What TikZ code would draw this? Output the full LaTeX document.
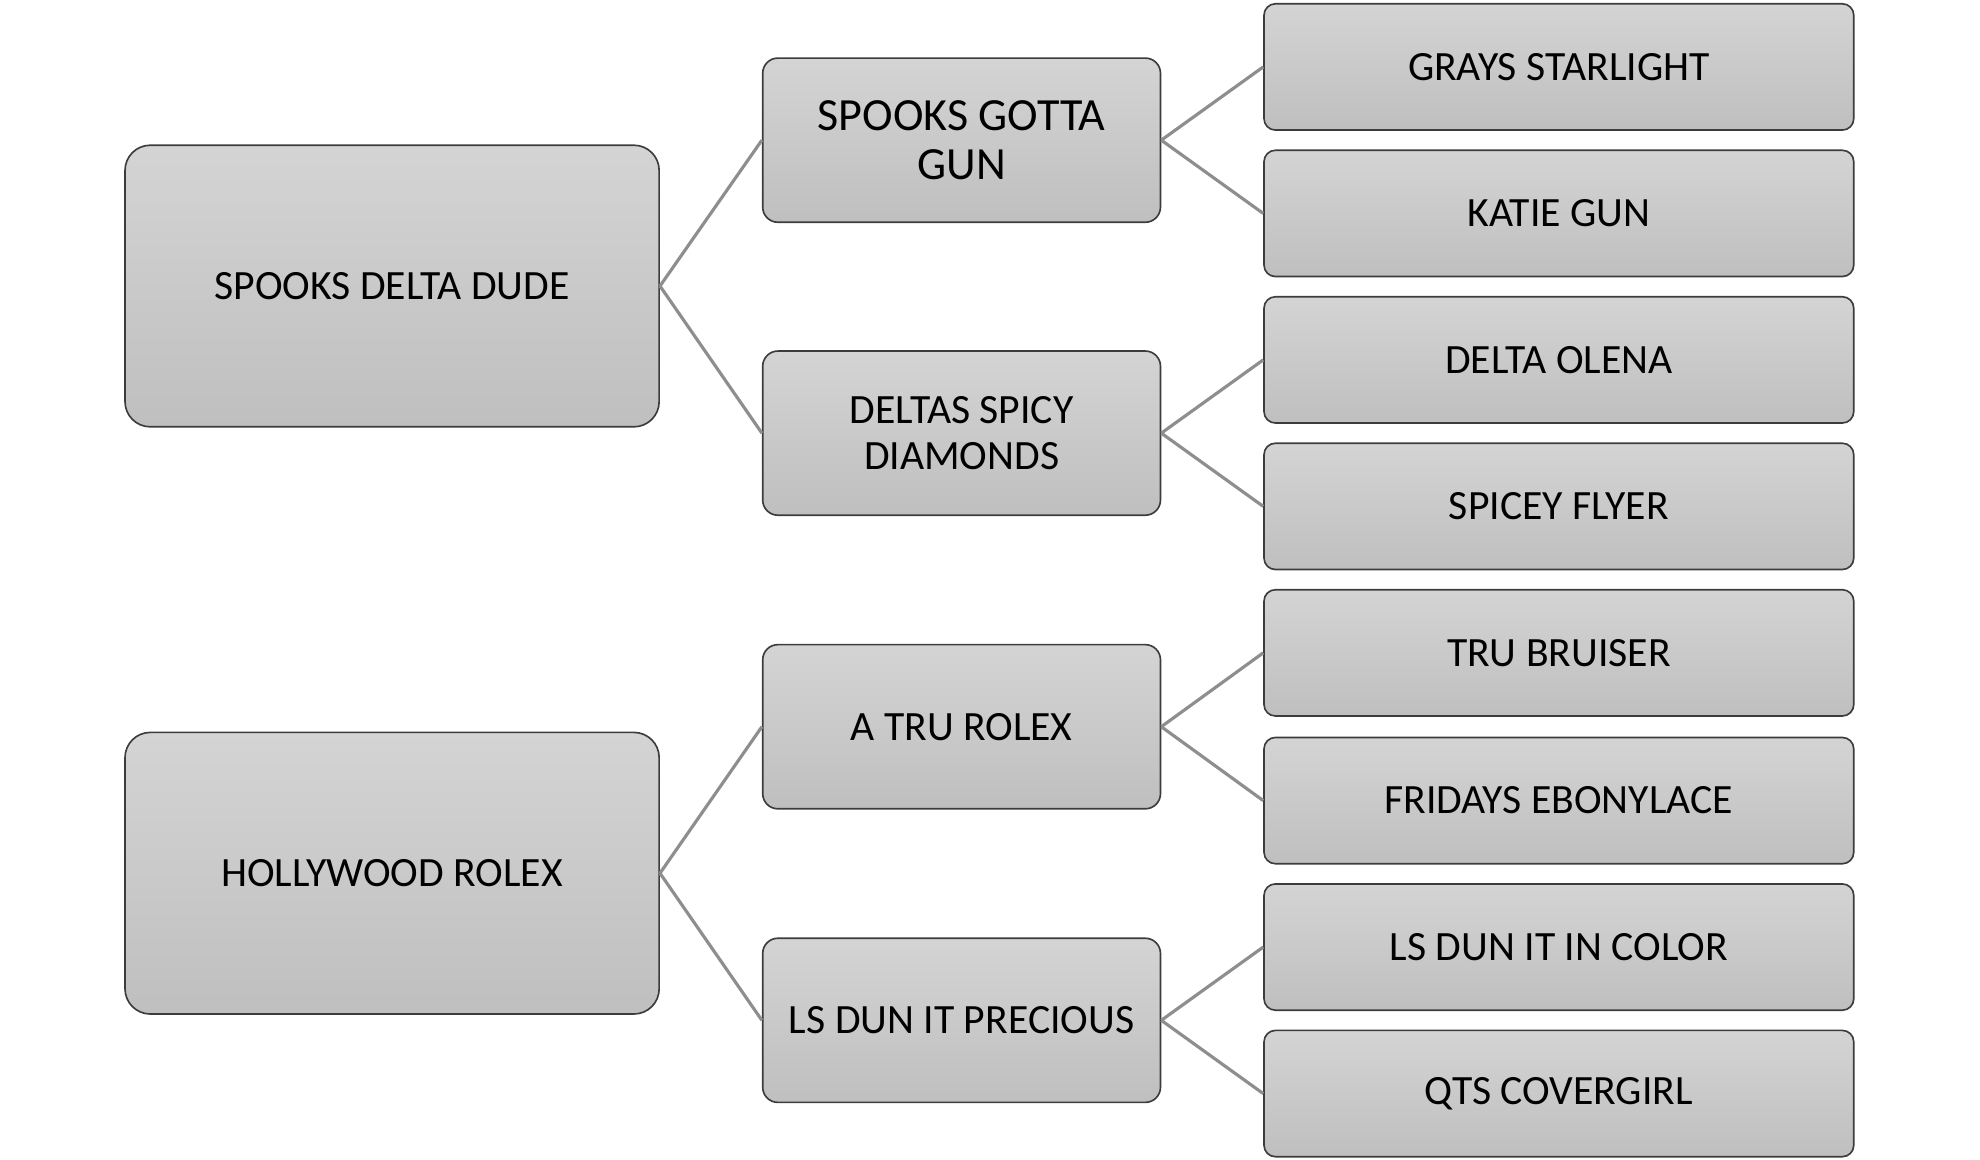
\documentclass[tikz,border=0pt]{standalone}
\usepackage{fontspec}
\setmainfont{Carlito}
\definecolor{topg}{RGB}{212,212,212}
\definecolor{botg}{RGB}{191,191,191}
\definecolor{edgec}{RGB}{60,60,60}
\definecolor{connc}{RGB}{142,142,142}
\begin{document}
\begin{tikzpicture}[x=1pt,y=-1pt,
  box/.style={draw=edgec, line width=1.3pt, top color=topg, bottom color=botg, align=center, inner sep=0pt, anchor=center, font=\fontsize{33}{36}\selectfont},
  lone/.style={box, minimum width=423pt, minimum height=223pt, rounded corners=20pt},
  ltwo/.style={box, minimum width=315pt, minimum height=130pt, rounded corners=12pt},
  lthree/.style={box, minimum width=467pt, minimum height=100pt, rounded corners=9pt},
  bigtext/.style={font=\fontsize{36.5}{39}\selectfont},
  conn/.style={draw=connc, line width=2.5pt}]
\useasboundingbox (0,0) rectangle (1568,918.6);
% level 1
\node[lone] (a) at (310.5,226.5) {SPOOKS DELTA DUDE};
\node[lone] (b) at (310.5,691.5) {HOLLYWOOD ROLEX};
% level 2
\node[ltwo, bigtext] (a1) at (761.5,111) {SPOOKS GOTTA\\GUN};
\node[ltwo] (a2) at (761.5,343) {DELTAS SPICY\\DIAMONDS};
\node[ltwo] (b1) at (761.5,575.5) {A TRU ROLEX};
\node[ltwo] (b2) at (761.5,808) {LS DUN IT PRECIOUS};
% level 3
\node[lthree] (a11) at (1234.5,53) {GRAYS STARLIGHT};
\node[lthree] (a12) at (1234.5,169) {KATIE GUN};
\node[lthree] (a21) at (1234.5,285) {DELTA OLENA};
\node[lthree] (a22) at (1234.5,401) {SPICEY FLYER};
\node[lthree] (b11) at (1234.5,517) {TRU BRUISER};
\node[lthree] (b12) at (1234.5,634) {FRIDAYS EBONYLACE};
\node[lthree] (b21) at (1234.5,750) {LS DUN IT IN COLOR};
\node[lthree] (b22) at (1234.5,866) {QTS COVERGIRL};
% connectors
\draw[conn] (a.east) -- (a1.west);
\draw[conn] (a.east) -- (a2.west);
\draw[conn] (b.east) -- (b1.west);
\draw[conn] (b.east) -- (b2.west);
\draw[conn] (a1.east) -- (a11.west);
\draw[conn] (a1.east) -- (a12.west);
\draw[conn] (a2.east) -- (a21.west);
\draw[conn] (a2.east) -- (a22.west);
\draw[conn] (b1.east) -- (b11.west);
\draw[conn] (b1.east) -- (b12.west);
\draw[conn] (b2.east) -- (b21.west);
\draw[conn] (b2.east) -- (b22.west);
\end{tikzpicture}
\end{document}
